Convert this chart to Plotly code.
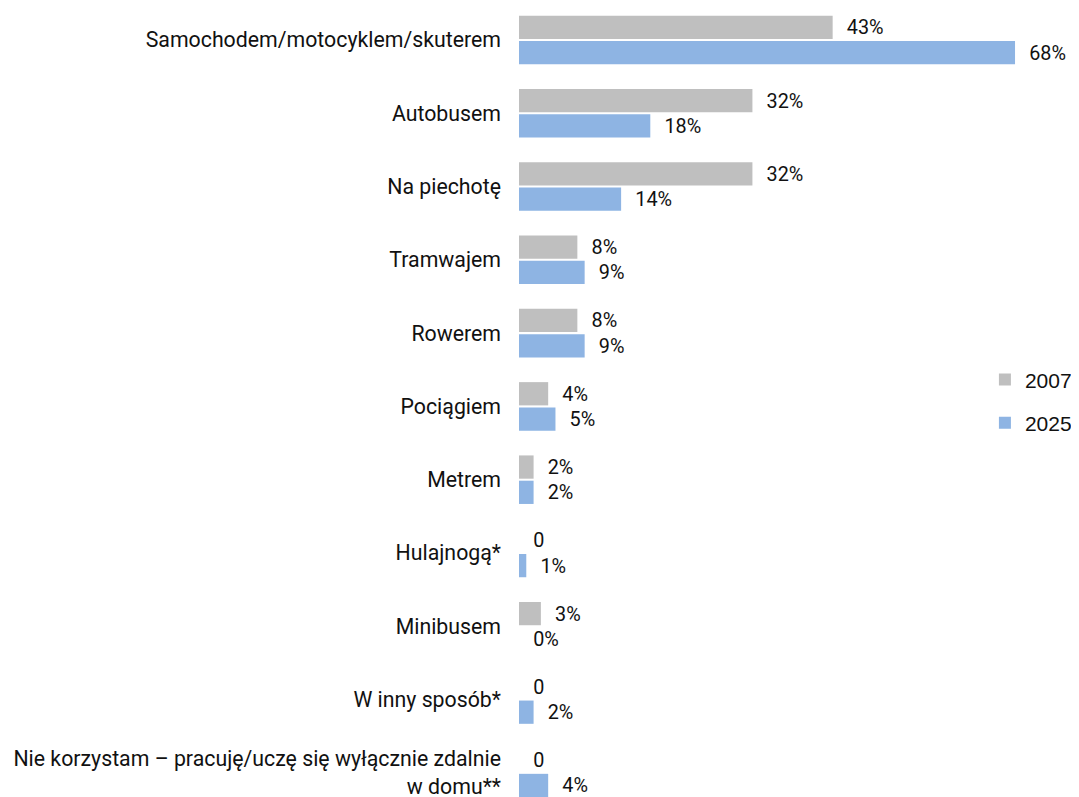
import plotly.graph_objects as go

categories = [
    "Samochodem/motocyklem/skuterem",
    "Autobusem",
    "Na piechotę",
    "Tramwajem",
    "Rowerem",
    "Pociągiem",
    "Metrem",
    "Hulajnogą*",
    "Minibusem",
    "W inny sposób*",
    "Nie korzystam – pracuję/uczę się wyłącznie zdalnie<br>w domu**",
]
values_2007 = [43, 32, 32, 8, 8, 4, 2, 0, 3, 0, 0]
values_2025 = [68, 18, 14, 9, 9, 5, 2, 1, 0, 2, 4]
labels_2007 = ["43%", "32%", "32%", "8%", "8%", "4%", "2%", "0", "3%", "0", "0"]
labels_2025 = ["68%", "18%", "14%", "9%", "9%", "5%", "2%", "1%", "0%", "2%", "4%"]

GREY = "#BFBFBF"
BLUE = "#8EB4E3"
FONT = "Roboto"
TXT = "#111111"
SIZE = 21.3
pad = "\u2007"

fig = go.Figure()
for name, vals, labels, color, grp in [
    ("2007", values_2007, labels_2007, GREY, "a"),
    ("2025", values_2025, labels_2025, BLUE, "b"),
]:
    fig.add_trace(
        go.Bar(
            y=categories,
            x=vals,
            orientation="h",
            name=name,
            legendgroup=grp,
            marker=dict(color=color, line=dict(width=0)),
            text=[pad + t for t in labels],
            textposition="outside",
            cliponaxis=False,
            textfont=dict(family=FONT, size=SIZE, color=TXT),
        )
    )

# page body adds an 8px offset, so the figure is sized to the remaining window
fig.update_layout(
    width=1071,
    height=789,
    margin=dict(l=511, r=0, t=0, b=0, autoexpand=False),
    plot_bgcolor="white",
    paper_bgcolor="white",
    barmode="group",
    bargap=0.31,
    bargroupgap=0.08,
    font=dict(family=FONT, size=SIZE, color=TXT),
    xaxis=dict(range=[0, 76.77], visible=False),
    yaxis=dict(
        type="category",
        range=[10.33, -0.4366],
        showgrid=False,
        showline=False,
        ticks="",
        ticklabelstandoff=17,
        tickfont=dict(family=FONT, size=SIZE, color=TXT),
    ),
    legend=dict(
        x=0.832,
        y=0.5015,
        xanchor="left",
        yanchor="middle",
        traceorder="grouped",
        tracegroupgap=13,
        font=dict(family="Liberation Sans", size=21, color=TXT),
        bgcolor="rgba(0,0,0,0)",
    ),
)

fig.write_html("out.html")
